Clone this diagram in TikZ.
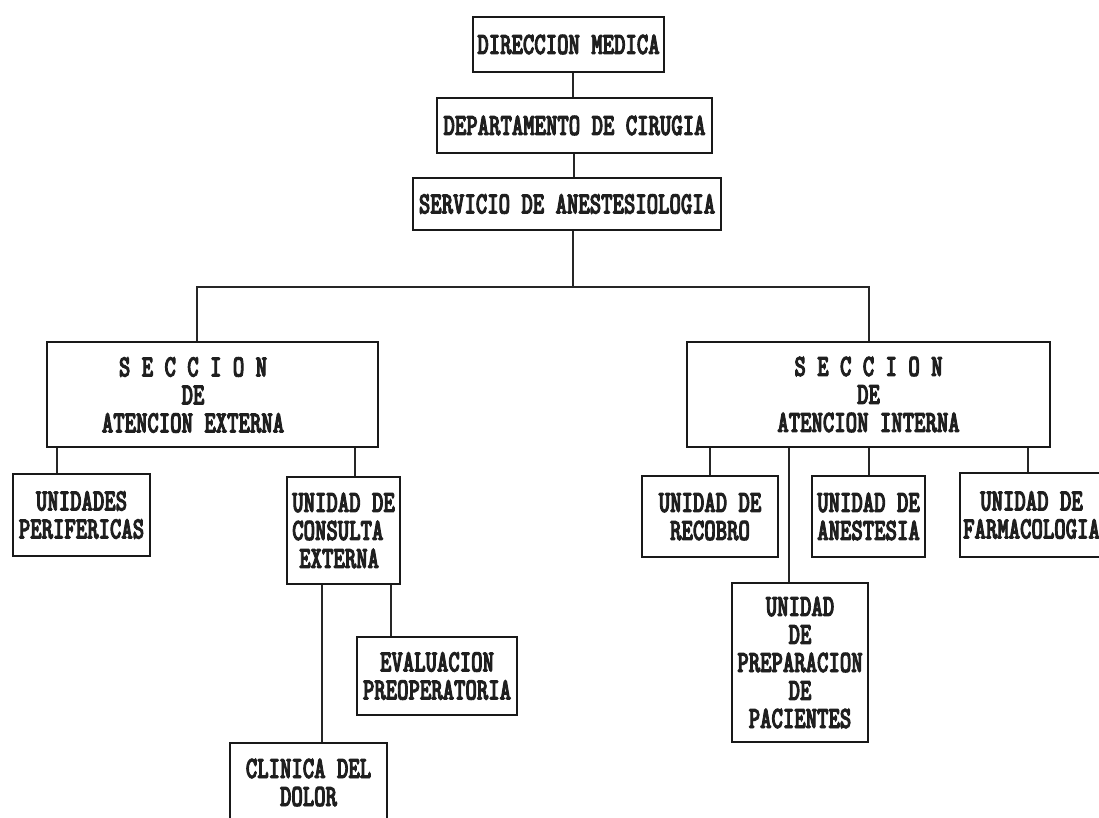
\documentclass[tikz,border=0pt]{standalone}
\usepackage{fontspec}
\newfontfamily\orgfont{lmmonolt10-bold.otf}[FakeStretch=0.70, FakeBold=3]
\begin{document}
\begin{tikzpicture}[x=1pt,y=-1pt,
  box/.style={draw=black!90, line width=1.6pt, inner sep=0pt, align=center,
    font=\orgfont\fontsize{31}{28}\selectfont, text=black!88},
  wire/.style={draw=black!85, line width=1.5pt}]
\useasboundingbox[fill=white] (0,0) rectangle (1099,817);

% top chain
\node[box, minimum width=191pt, minimum height=55pt] (dm)   at (568.5,44.5) {DIRECCION MEDICA};
\node[box, minimum width=275pt, minimum height=55pt] (dep)  at (574.5,125.5) {DEPARTAMENTO DE CIRUGIA};
\node[box, minimum width=308pt, minimum height=52pt] (serv) at (567,204) {SERVICIO DE ANESTESIOLOGIA};

% sections
\node[box, minimum width=331pt, minimum height=105pt] (ext) at (212.5,394.5) {};
\node[box, draw=none, minimum width=0pt, minimum height=0pt] (extlbl) at (193,395) {S E C C I O N\\DE\\ATENCION EXTERNA};
\node[box, minimum width=363pt, minimum height=105pt] (int) at (868.5,394.5) {S E C C I O N\\DE\\ATENCION INTERNA};

% units under the external section
\node[box, minimum width=137pt, minimum height=82pt] (perif) at (81.5,515) {UNIDADES\\PERIFERICAS};
\node[box, minimum width=113pt, minimum height=107pt, align=left] (cons) at (343.5,530.5) {UNIDAD DE\\CONSULTA\\\hspace*{7pt}EXTERNA};
\node[box, minimum width=160pt, minimum height=78pt] (eval) at (437,676) {EVALUACION\\PREOPERATORIA};
\node[box, minimum width=157pt, minimum height=79pt] (clin) at (308.5,782.5) {CLINICA DEL\\DOLOR};

% units under the internal section
\node[box, minimum width=136pt, minimum height=81pt] (recob) at (710,516.5) {UNIDAD DE\\RECOBRO};
\node[box, minimum width=113pt, minimum height=81pt] (anest) at (868.5,516.5) {UNIDAD DE\\ANESTESIA};
\node[box, minimum width=143pt, minimum height=84pt] (farm)  at (1031.5,515) {UNIDAD DE\\FARMACOLOGIA};
\node[box, minimum width=136pt, minimum height=159pt] (prep) at (800,662.5) {UNIDAD\\DE\\PREPARACION\\DE\\PACIENTES};

% branching bar
\coordinate (barL) at (197,287);
\coordinate (barM) at (573,287);
\coordinate (barR) at (869,287);

\draw[wire] (dm.south -| 573,0) -- (dep.north -| 573,0);
\draw[wire] (dep.south -| 574,0) -- (serv.north -| 574,0);
\draw[wire] (serv.south -| barM) -- (barM);
\draw[wire] (ext.north -| barL) -- (barL) -- (barR) -- (int.north -| barR);

\draw[wire] (ext.south -| 57,0) -- (perif.north -| 57,0);
\draw[wire] (ext.south -| 355,0) -- (cons.north -| 355,0);
\draw[wire] (cons.south -| 322,0) -- (clin.north -| 322,0);
\draw[wire] (cons.south -| 391,0) -- (eval.north -| 391,0);

\draw[wire] (int.south -| 710,0) -- (recob.north -| 710,0);
\draw[wire] (int.south -| 789,0) -- (prep.north -| 789,0);
\draw[wire] (int.south -| 869,0) -- (anest.north -| 869,0);
\draw[wire] (int.south -| 1028,0) -- (farm.north -| 1028,0);
\end{tikzpicture}
\end{document}
